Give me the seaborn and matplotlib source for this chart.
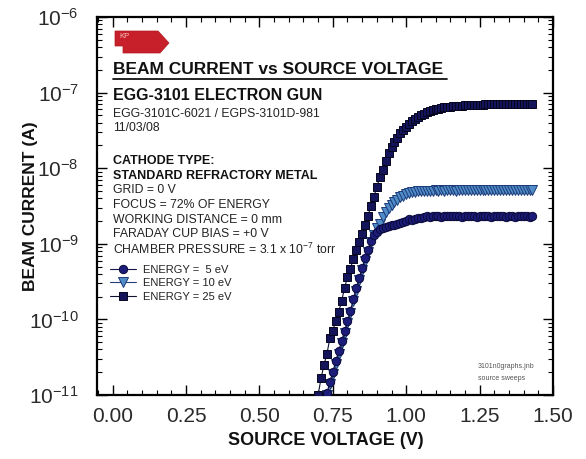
import matplotlib
matplotlib.use("Agg")
import matplotlib.pyplot as plt
import matplotlib.ticker as mticker
from matplotlib.patches import Polygon
from matplotlib.lines import Line2D
import seaborn as sns
import pandas as pd

# ---------------- data ----------------
volt_25ev = [0.70, 0.71, 0.72, 0.73, 0.74, 0.75, 0.76, 0.77, 0.78, 0.79,
             0.80, 0.81, 0.82, 0.83, 0.84, 0.85, 0.86, 0.87, 0.88, 0.89,
             0.90, 0.91, 0.92, 0.93, 0.94, 0.95, 0.96, 0.97, 0.98, 0.99,
             1.00, 1.01, 1.02, 1.03, 1.04, 1.05, 1.06, 1.07, 1.08, 1.09,
             1.10, 1.11, 1.12, 1.13, 1.14, 1.15, 1.16, 1.17, 1.18, 1.19,
             1.20, 1.21, 1.22, 1.23, 1.24, 1.25, 1.26, 1.27, 1.28, 1.29,
             1.30, 1.31, 1.32, 1.33, 1.34, 1.35, 1.36, 1.37, 1.38, 1.39,
             1.40, 1.41, 1.42, 1.43]
curr_25ev = [1.0e-11, 1.66e-11, 2.5e-11, 3.5e-11, 5.6e-11, 7.1e-11, 9.5e-11, 1.26e-10, 1.74e-10, 2.6e-10,
             3.6e-10, 4.7e-10, 6.3e-10, 8.3e-10, 1.05e-9, 1.35e-9, 1.8e-9, 2.35e-9, 3.2e-9, 4.2e-9,
             5.6e-9, 7.6e-9, 9.5e-9, 1.26e-8, 1.58e-8, 1.9e-8, 2.2e-8, 2.5e-8, 2.9e-8, 3.2e-8,
             3.55e-8, 3.9e-8, 4.2e-8, 4.5e-8, 4.8e-8, 5.0e-8, 5.25e-8, 5.5e-8, 5.7e-8, 5.9e-8,
             6.0e-8, 6.15e-8, 6.3e-8, 6.4e-8, 6.45e-8, 6.5e-8, 6.6e-8, 6.65e-8, 6.7e-8, 6.75e-8,
             6.8e-8, 6.85e-8, 6.85e-8, 6.9e-8, 6.9e-8, 6.95e-8, 6.95e-8, 7.0e-8, 7.0e-8, 7.0e-8,
             7.05e-8, 7.0e-8, 7.05e-8, 7.05e-8, 7.05e-8, 7.1e-8, 7.05e-8, 7.1e-8, 7.1e-8, 7.1e-8,
             7.1e-8, 7.1e-8, 7.1e-8, 7.1e-8]

volt_10ev = [0.73, 0.74, 0.75, 0.76, 0.77, 0.78, 0.79, 0.80, 0.81, 0.82,
             0.83, 0.84, 0.85, 0.86, 0.87, 0.88, 0.89, 0.90, 0.91, 0.92,
             0.93, 0.94, 0.95, 0.96, 0.97, 0.98, 0.99, 1.00, 1.01, 1.02,
             1.03, 1.04, 1.05, 1.06, 1.07, 1.08, 1.09, 1.10, 1.11, 1.12,
             1.13, 1.14, 1.15, 1.16, 1.17, 1.18, 1.19, 1.20, 1.21, 1.22,
             1.23, 1.24, 1.25, 1.26, 1.27, 1.28, 1.29, 1.30, 1.31, 1.32,
             1.33, 1.34, 1.35, 1.36, 1.37, 1.38, 1.39, 1.40, 1.41, 1.42, 1.43]
curr_10ev = [1.0e-11, 1.4e-11, 1.9e-11, 2.6e-11, 3.5e-11, 4.8e-11, 6.6e-11, 8.9e-11, 1.2e-10, 1.74e-10,
             2.4e-10, 3.3e-10, 4.5e-10, 6.0e-10, 7.9e-10, 1.05e-9, 1.3e-9, 1.6e-9, 1.85e-9, 2.25e-9,
             2.6e-9, 2.95e-9, 3.25e-9, 3.55e-9, 3.85e-9, 4.1e-9, 4.35e-9, 4.55e-9, 4.7e-9, 4.8e-9,
             4.9e-9, 4.95e-9, 5.0e-9, 5.0e-9, 5.05e-9, 5.05e-9, 5.05e-9, 5.1e-9, 5.05e-9, 5.1e-9,
             5.05e-9, 5.1e-9, 5.1e-9, 5.1e-9, 5.05e-9, 5.1e-9, 5.1e-9, 5.1e-9, 5.15e-9, 5.1e-9,
             5.1e-9, 5.1e-9, 5.15e-9, 5.1e-9, 5.1e-9, 5.15e-9, 5.1e-9, 5.15e-9, 5.1e-9, 5.1e-9,
             5.15e-9, 5.1e-9, 5.15e-9, 5.1e-9, 5.15e-9, 5.1e-9, 5.15e-9, 5.1e-9, 5.15e-9, 5.15e-9, 5.1e-9]

volt_5ev = list(volt_10ev)
curr_5ev = [1.05e-11, 1.5e-11, 2.0e-11, 2.8e-11, 3.8e-11, 5.2e-11, 7.0e-11, 9.5e-11, 1.3e-10, 1.85e-10,
            2.6e-10, 3.5e-10, 4.8e-10, 6.4e-10, 8.4e-10, 1.1e-9, 1.3e-9, 1.45e-9, 1.55e-9, 1.6e-9,
            1.65e-9, 1.7e-9, 1.75e-9, 1.8e-9, 1.85e-9, 1.9e-9, 1.95e-9, 2.0e-9, 2.1e-9, 2.05e-9,
            2.15e-9, 2.2e-9, 2.2e-9, 2.25e-9, 2.3e-9, 2.25e-9, 2.3e-9, 2.35e-9, 2.3e-9, 2.25e-9,
            2.3e-9, 2.35e-9, 2.3e-9, 2.3e-9, 2.35e-9, 2.3e-9, 2.25e-9, 2.3e-9, 2.35e-9, 2.3e-9,
            2.3e-9, 2.25e-9, 2.3e-9, 2.35e-9, 2.3e-9, 2.3e-9, 2.25e-9, 2.3e-9, 2.3e-9, 2.35e-9,
            2.3e-9, 2.25e-9, 2.3e-9, 2.3e-9, 2.25e-9, 2.3e-9, 2.3e-9, 2.35e-9, 2.3e-9, 2.25e-9, 2.3e-9]

legend_labels = ["ENERGY =  5 eV", "ENERGY = 10 eV", "ENERGY = 25 eV"]
x_ticks = [0.00, 0.25, 0.50, 0.75, 1.00, 1.25, 1.50]
y_ticks = [1e-11, 1e-10, 1e-9, 1e-8, 1e-7, 1e-6]

info_bold_1 = "EGG-3101 ELECTRON GUN"
info_lines_1 = ["EGG-3101C-6021 / EGPS-3101D-981", "11/03/08"]
info_bold_2 = ["CATHODE TYPE:", "STANDARD REFRACTORY METAL"]
info_lines_2 = ["GRID = 0 V", "FOCUS = 72% OF ENERGY", "WORKING DISTANCE = 0 mm",
                "FARADAY CUP BIAS = +0 V",
                r"CHAMBER PRESSURE = 3.1 x 10$^{\mathregular{-7}}$ torr"]

# ---------------- style ----------------
sns.set_theme(style="ticks")
plt.rcParams['font.family'] = ['Liberation Sans', 'DejaVu Sans']
plt.rcParams['mathtext.fontset'] = 'custom'
plt.rcParams['mathtext.rm'] = 'Liberation Sans'
plt.rcParams['mathtext.it'] = 'Liberation Sans:italic'
plt.rcParams['mathtext.bf'] = 'Liberation Sans:bold'
plt.rcParams['mathtext.default'] = 'regular'

W, H = 586, 459
fig = plt.figure(figsize=(W / 100, H / 100), dpi=100)
fig.patch.set_facecolor('white')
L, R, T, B = 97, 553, 17, 395
ax = fig.add_axes([L / W, 1 - B / H, (R - L) / W, (B - T) / H])
ax.set_facecolor('white')


def fp(x, y):
    return (x / W, 1 - y / H)


# ---------------- series ----------------
df5 = pd.DataFrame({"v": volt_5ev, "i": curr_5ev})
df10 = pd.DataFrame({"v": volt_10ev, "i": curr_10ev})
df25 = pd.DataFrame({"v": volt_25ev, "i": curr_25ev})

sns.lineplot(data=df5, x="v", y="i", ax=ax, color="#15154a", linewidth=0.8,
             marker="o", markersize=6.0, markerfacecolor="#1c1c7a",
             markeredgecolor="#0a0a3a", markeredgewidth=0.7,
             errorbar=None, label=legend_labels[0], zorder=4)
sns.lineplot(data=df10, x="v", y="i", ax=ax, color="#22407a", linewidth=0.8,
             marker="v", markersize=6.6, markerfacecolor="#4f8cc8",
             markeredgecolor="#1c3a78", markeredgewidth=0.7,
             errorbar=None, label=legend_labels[1], zorder=3)
sns.lineplot(data=df25, x="v", y="i", ax=ax, color="#101030", linewidth=0.8,
             marker="s", markersize=5.4, markerfacecolor="#14145a",
             markeredgecolor="#05051e", markeredgewidth=0.7,
             errorbar=None, label=legend_labels[2], zorder=5)

# ---------------- axes ----------------
ax.set_yscale('log')
ax.set_ylim(1e-11, 1e-6)
ax.set_xlim(-0.053, 1.50)
ax.xaxis.set_major_locator(mticker.FixedLocator(x_ticks))
ax.xaxis.set_major_formatter(mticker.FormatStrFormatter('%.2f'))
ax.xaxis.set_minor_locator(mticker.MultipleLocator(0.05))
ax.yaxis.set_major_locator(mticker.FixedLocator(y_ticks))
ax.yaxis.set_minor_locator(mticker.LogLocator(base=10, subs=range(2, 10), numticks=10))
ax.yaxis.set_major_formatter(mticker.LogFormatterMathtext())
ax.yaxis.set_minor_formatter(mticker.NullFormatter())

for s in ax.spines.values():
    s.set_visible(True)
    s.set_linewidth(1.6)
    s.set_color('black')

ax.tick_params(which='both', direction='in', top=True, right=True, color='black')
ax.tick_params(which='major', length=7, width=1.0, labelsize=15, labelcolor='#2a2a2a')
ax.tick_params(which='minor', length=3.5, width=0.8)
ax.tick_params(axis='x', which='major', pad=9)
ax.tick_params(axis='y', which='major', pad=13)

ax.set_xlabel("SOURCE VOLTAGE (V)", fontsize=13, fontweight='bold', color='#111111')
ax.set_ylabel("BEAM CURRENT (A)", fontsize=12.5, fontweight='bold', color='#111111')
ax.xaxis.set_label_coords(0.502, -0.098)
ax.yaxis.set_label_coords(-0.13, 0.5)

# ---------------- legend ----------------
ax.legend(loc='upper left', bbox_to_anchor=fp(110, 265), bbox_transform=fig.transFigure,
          frameon=False, fontsize=8, handlelength=2.3, handletextpad=0.7,
          labelspacing=0.3, borderpad=0, borderaxespad=0, labelcolor='#222222')

# ---------------- annotations ----------------
logo = Polygon([fp(115, 31), fp(158, 31), fp(169, 43), fp(160, 53), fp(123, 53),
                fp(123, 46), fp(115, 46)], closed=True, transform=fig.transFigure,
               facecolor='#c8202a', edgecolor='#b01820', linewidth=0.5)
fig.add_artist(logo)
fig.text(*fp(119, 37), "KP", fontsize=5.5, color='#f5c0c0', ha='left', va='center')

fig.text(*fp(113, 70), "BEAM CURRENT vs SOURCE VOLTAGE", fontsize=12.5,
         fontweight='bold', color='#111111', ha='left', va='center')
fig.add_artist(Line2D([113 / W, 447 / W], [1 - 79 / H, 1 - 79 / H],
                      transform=fig.transFigure, color='#111111', linewidth=1.3))
fig.text(*fp(113, 95), info_bold_1, fontsize=11.5, fontweight='bold',
         color='#111111', ha='left', va='center')
for k, line in enumerate(info_lines_1):
    fig.text(*fp(113, 114 + 14 * k), line, fontsize=8.8, color='#222222',
             ha='left', va='center')
for k, line in enumerate(info_bold_2):
    fig.text(*fp(113, 161 + 15 * k), line, fontsize=9, fontweight='bold',
             color='#111111', ha='left', va='center')
for k, line in enumerate(info_lines_2):
    fig.text(*fp(113, 190 + 14.8 * k), line, fontsize=8.8, color='#222222',
             ha='left', va='center')

fig.text(*fp(478, 366), "3101n0graphs.jnb", fontsize=5, color='#555555',
         ha='left', va='center')
fig.text(*fp(478, 378), "source sweeps", fontsize=5, color='#555555',
         ha='left', va='center')

fig.savefig("out.png", dpi=100, facecolor='white')
